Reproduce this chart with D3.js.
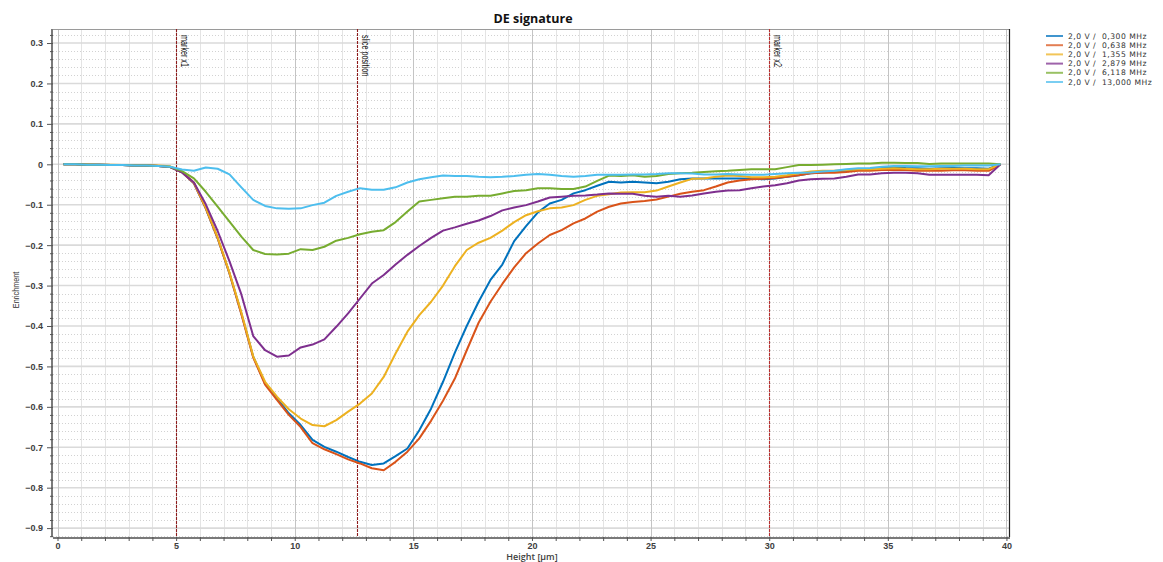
<!DOCTYPE html>
<html>
<head>
<meta charset="utf-8">
<script src="https://cdn.jsdelivr.net/npm/d3@7"></script>
<style>
  html, body { margin: 0; padding: 0; background: #fff; }
  svg { display: block; font-family: "Open Sans", "DejaVu Sans", sans-serif; }
</style>
</head>
<body>
<svg id="chart" width="1163" height="562"></svg>
<script>
// Sample heights (µm) of the depth profile
const heights = [0.25, 0.75, 1.25, 1.75, 2.25, 2.75, 3.25, 3.75, 4.25, 4.75,
  5.25, 5.75, 6.25, 6.75, 7.25, 7.75, 8.25, 8.75, 9.25, 9.75,
  10.25, 10.75, 11.25, 11.75, 12.25, 12.75, 13.25, 13.75, 14.25, 14.75,
  15.25, 15.75, 16.25, 16.75, 17.25, 17.75, 18.25, 18.75, 19.25, 19.75,
  20.25, 20.75, 21.25, 21.75, 22.25, 22.75, 23.25, 23.75, 24.25, 24.75,
  25.25, 25.75, 26.25, 26.75, 27.25, 27.75, 28.25, 28.75, 29.25, 29.75,
  30.25, 30.75, 31.25, 31.75, 32.25, 32.75, 33.25, 33.75, 34.25, 34.75,
  35.25, 35.75, 36.25, 36.75, 37.25, 37.75, 38.25, 38.75, 39.25, 39.75];

// Enrichment per drive frequency
const f0300 = [0, 0, -0.001, -0.001, -0.002, -0.002, -0.003, -0.003, -0.004, -0.007,
  -0.020, -0.047, -0.109, -0.183, -0.270, -0.369, -0.476, -0.542, -0.579, -0.616,
  -0.645, -0.682, -0.699, -0.711, -0.724, -0.736, -0.744, -0.740, -0.722, -0.703,
  -0.658, -0.604, -0.538, -0.466, -0.400, -0.340, -0.286, -0.248, -0.190, -0.153,
  -0.119, -0.097, -0.088, -0.072, -0.064, -0.053, -0.043, -0.045, -0.043, -0.045,
  -0.047, -0.043, -0.037, -0.035, -0.035, -0.035, -0.035, -0.035, -0.036, -0.037,
  -0.035, -0.031, -0.027, -0.022, -0.020, -0.018, -0.016, -0.012, -0.012, -0.009,
  -0.007, -0.009, -0.010, -0.011, -0.010, -0.009, -0.010, -0.010, -0.011, 0];
const f0638 = [0, 0, -0.001, -0.001, -0.002, -0.002, -0.003, -0.003, -0.004, -0.007,
  -0.020, -0.047, -0.109, -0.183, -0.270, -0.371, -0.478, -0.545, -0.583, -0.620,
  -0.650, -0.690, -0.705, -0.717, -0.730, -0.740, -0.752, -0.757, -0.736, -0.711,
  -0.678, -0.634, -0.585, -0.530, -0.460, -0.392, -0.340, -0.296, -0.255, -0.220,
  -0.196, -0.175, -0.163, -0.146, -0.134, -0.117, -0.105, -0.097, -0.093, -0.091,
  -0.087, -0.080, -0.073, -0.068, -0.064, -0.055, -0.045, -0.040, -0.037, -0.036,
  -0.034, -0.031, -0.027, -0.022, -0.021, -0.021, -0.019, -0.016, -0.016, -0.014,
  -0.014, -0.014, -0.016, -0.016, -0.016, -0.015, -0.015, -0.016, -0.016, 0];
const f1355 = [0, 0, 0, -0.001, -0.001, -0.002, -0.002, -0.002, -0.003, -0.005,
  -0.018, -0.045, -0.107, -0.181, -0.268, -0.366, -0.475, -0.538, -0.575, -0.606,
  -0.629, -0.645, -0.648, -0.633, -0.612, -0.592, -0.567, -0.526, -0.468, -0.414,
  -0.373, -0.340, -0.300, -0.252, -0.212, -0.194, -0.182, -0.164, -0.143, -0.126,
  -0.116, -0.109, -0.107, -0.101, -0.088, -0.078, -0.074, -0.070, -0.069, -0.069,
  -0.065, -0.055, -0.045, -0.036, -0.035, -0.031, -0.028, -0.029, -0.032, -0.032,
  -0.031, -0.027, -0.022, -0.018, -0.016, -0.016, -0.014, -0.012, -0.012, -0.011,
  -0.010, -0.011, -0.012, -0.012, -0.011, -0.011, -0.011, -0.012, -0.012, 0];
const f2879 = [0, 0, -0.001, -0.001, -0.002, -0.002, -0.003, -0.003, -0.004, -0.007,
  -0.020, -0.045, -0.099, -0.165, -0.240, -0.322, -0.425, -0.460, -0.476, -0.473,
  -0.453, -0.446, -0.433, -0.402, -0.369, -0.332, -0.295, -0.274, -0.248, -0.224,
  -0.202, -0.182, -0.164, -0.156, -0.147, -0.139, -0.128, -0.114, -0.107, -0.101,
  -0.092, -0.082, -0.080, -0.078, -0.077, -0.075, -0.072, -0.073, -0.073, -0.078,
  -0.080, -0.078, -0.080, -0.077, -0.072, -0.068, -0.065, -0.064, -0.059, -0.055,
  -0.052, -0.047, -0.040, -0.037, -0.036, -0.035, -0.031, -0.025, -0.025, -0.022,
  -0.021, -0.021, -0.022, -0.026, -0.026, -0.026, -0.026, -0.026, -0.027, 0];
const f6118 = [0, 0, -0.001, -0.001, -0.002, -0.002, -0.003, -0.003, -0.004, -0.006,
  -0.017, -0.035, -0.068, -0.105, -0.142, -0.179, -0.212, -0.222, -0.223, -0.221,
  -0.210, -0.212, -0.204, -0.189, -0.182, -0.173, -0.167, -0.163, -0.143, -0.117,
  -0.092, -0.088, -0.084, -0.080, -0.080, -0.078, -0.078, -0.072, -0.066, -0.064,
  -0.059, -0.059, -0.061, -0.061, -0.055, -0.041, -0.028, -0.029, -0.027, -0.031,
  -0.029, -0.024, -0.022, -0.021, -0.019, -0.017, -0.016, -0.014, -0.012, -0.012,
  -0.012, -0.007, -0.002, -0.002, -0.001, 0, 0.001, 0.002, 0.002, 0.004,
  0.004, 0.003, 0.003, 0.001, 0.002, 0.002, 0.002, 0.002, 0.002, 0];
const f13000 = [0, 0, -0.001, -0.001, -0.002, -0.002, -0.003, -0.003, -0.004, -0.006,
  -0.013, -0.016, -0.008, -0.011, -0.025, -0.057, -0.088, -0.103, -0.109, -0.110,
  -0.109, -0.101, -0.095, -0.078, -0.068, -0.059, -0.063, -0.063, -0.057, -0.045,
  -0.037, -0.032, -0.028, -0.029, -0.029, -0.031, -0.032, -0.031, -0.029, -0.026,
  -0.024, -0.026, -0.029, -0.031, -0.029, -0.026, -0.026, -0.026, -0.025, -0.025,
  -0.024, -0.022, -0.022, -0.023, -0.025, -0.025, -0.024, -0.025, -0.026, -0.026,
  -0.024, -0.022, -0.021, -0.020, -0.018, -0.016, -0.012, -0.010, -0.009, -0.006,
  -0.004, -0.004, -0.005, -0.005, -0.004, -0.004, -0.003, -0.003, -0.003, 0];

const seriesNames = ["2,0 V /  0,300 MHz", "2,0 V /  0,638 MHz", "2,0 V /  1,355 MHz",
  "2,0 V /  2,879 MHz", "2,0 V /  6,118 MHz", "2,0 V /  13,000 MHz"];
const seriesValues = [f0300, f0638, f1355, f2879, f6118, f13000];
const seriesColors = ["#0072BD", "#D95319", "#EDB120", "#7E2F8E", "#77AC30", "#4DBEEE"];

// Vertical markers
const markerNames = ["marker x1", "slice position", "marker x2"];
const markerPositions = [5, 12.64, 30];
const markerColors = ["#8e1c1c", "#8e1c1c", "#b82e2e"];

const xTicks = [0, 5, 10, 15, 20, 25, 30, 35, 40];
const yTicks = [0.3, 0.2, 0.1, 0, -0.1, -0.2, -0.3, -0.4, -0.5, -0.6, -0.7, -0.8, -0.9];

const svg = d3.select("#chart");
const L = 53, R = 1010, T = 29, B = 537;

const x = d3.scaleLinear().domain([-0.19, 40.15]).range([L, R]);
const y = d3.scaleLinear().domain([0.3347, -0.922]).range([T, B]);

const grid = svg.append("g");

// minor horizontal grid, dotted, every 0.02
const yMinor = d3.range(-46, 17).map(i => i * 0.02).filter(v => Math.abs(Math.round(v * 10) - v * 10) > 1e-6);
grid.selectAll("line.ymin").data(yMinor).join("line")
  .attr("x1", L).attr("x2", R)
  .attr("y1", d => Math.round(y(d)) + 0.5).attr("y2", d => Math.round(y(d)) + 0.5)
  .attr("stroke", "#d2d2d2").attr("stroke-width", 1).attr("stroke-dasharray", "1,2");

// minor vertical grid every 1 µm
const xMinor = d3.range(0, 41).filter(v => v % 5 !== 0);
grid.selectAll("line.xmin").data(xMinor).join("line")
  .attr("x1", d => Math.round(x(d)) + 0.5).attr("x2", d => Math.round(x(d)) + 0.5)
  .attr("y1", T).attr("y2", B)
  .attr("stroke", "#e4e4e4").attr("stroke-width", 1);

// major horizontal grid
grid.selectAll("line.ymaj").data(yTicks).join("line")
  .attr("x1", L).attr("x2", R)
  .attr("y1", d => y(d)).attr("y2", d => y(d))
  .attr("stroke", "#dadada").attr("stroke-width", 1.6);

// major vertical grid
grid.selectAll("line.xmaj").data(xTicks).join("line")
  .attr("x1", d => Math.round(x(d)) + 0.5).attr("x2", d => Math.round(x(d)) + 0.5)
  .attr("y1", T).attr("y2", B)
  .attr("stroke", "#c4c4c4").attr("stroke-width", 1);

// frame
svg.append("line").attr("x1", L).attr("x2", R).attr("y1", T + 0.5).attr("y2", T + 0.5)
  .attr("stroke", "#9a9a9a").attr("stroke-width", 1);
svg.append("line").attr("x1", R - 0.5).attr("x2", R - 0.5).attr("y1", T).attr("y2", B)
  .attr("stroke", "#222").attr("stroke-width", 1.2);

// markers
const mk = svg.append("g");
mk.selectAll("line").data(markerPositions).join("line")
  .attr("x1", d => Math.round(x(d)) + 0.5).attr("x2", d => Math.round(x(d)) + 0.5)
  .attr("y1", T).attr("y2", B)
  .attr("stroke", (d, i) => markerColors[i]).attr("stroke-width", 1.1).attr("stroke-dasharray", "3,1");
mk.selectAll("text").data(markerNames).join("text")
  .attr("transform", (d, i) => `translate(${x(markerPositions[i]) + 5},${T + 6}) rotate(90) scale(0.72,1)`)
  .attr("font-family", "Liberation Sans, Arial, sans-serif")
  .attr("font-size", 10).attr("fill", "#111")
  .text(d => d);

// series lines
const line = d3.line().x((d, i) => x(heights[i])).y(d => y(d));
svg.append("g").selectAll("path").data(seriesValues).join("path")
  .attr("d", d => line(d))
  .attr("fill", "none")
  .attr("stroke", (d, i) => seriesColors[i])
  .attr("stroke-width", 2)
  .attr("stroke-linejoin", "round");

// axes
const xAxis = d3.axisBottom(x).tickValues(d3.range(0, 41)).tickSize(4)
  .tickFormat(d => (d % 5 === 0 ? d : ""));
const gx = svg.append("g").attr("transform", `translate(0,${B})`).call(xAxis);
gx.select(".domain").attr("stroke", "#7a7a7a").attr("stroke-width", 2).attr("d", `M${L},1V1H${R}`);
gx.selectAll(".tick line").attr("stroke", "#555");
gx.selectAll(".tick text").attr("font-size", 9).attr("font-weight", 600).attr("fill", "#404040").attr("dy", "0.55em");

const yAxis = d3.axisLeft(y).tickValues(yMinor.concat(yTicks)).tickSize(3)
  .tickFormat(d => (yTicks.some(t => Math.abs(t - d) < 1e-9) ? (Math.abs(d) < 1e-9 ? "0" : d3.format(".1f")(d)) : ""));
const gy = svg.append("g").attr("transform", `translate(${L},0)`).call(yAxis);
gy.select(".domain").attr("stroke", "#7a7a7a").attr("stroke-width", 2).attr("d", `M-1,${T}H-1V${B}H-1`);
gy.selectAll(".tick line").attr("stroke", "#555")
  .attr("x2", d => (yTicks.some(t => Math.abs(t - d) < 1e-9) ? -6 : -3));
gy.selectAll(".tick text").attr("font-size", 9).attr("font-weight", 600).attr("fill", "#404040").attr("x", -10);

// titles
svg.append("text").attr("x", 533).attr("y", 23).attr("text-anchor", "middle")
  .attr("font-size", 12.5).attr("font-weight", 700).attr("fill", "#111").text("DE signature");
svg.append("text").attr("x", 532).attr("y", 560).attr("text-anchor", "middle")
  .attr("font-size", 9).attr("font-weight", 600).attr("fill", "#404040").text("Height [µm]");
svg.append("text").attr("transform", "translate(19,290) rotate(-90) scale(0.8,1)")
  .attr("text-anchor", "middle").attr("font-family", "Liberation Sans, Arial, sans-serif")
  .attr("font-size", 9).attr("fill", "#333").text("Enrichment");

// legend
const lg = svg.append("g").attr("transform", "translate(1046,36)");
const rows = lg.selectAll("g").data(seriesNames).join("g")
  .attr("transform", (d, i) => `translate(0,${i * 9.2})`);
rows.append("line").attr("x1", 0).attr("x2", 17).attr("y1", 0).attr("y2", 0)
  .attr("stroke", (d, i) => seriesColors[i]).attr("stroke-width", 2).attr("stroke-opacity", 0.75);
rows.append("text").attr("x", 22).attr("y", 0).attr("dy", "0.35em")
  .attr("font-family", "DejaVu Sans, sans-serif")
  .attr("font-size", 7.6).attr("letter-spacing", 0.5).attr("fill", "#333").attr("xml:space", "preserve")
  .style("white-space", "pre").text(d => d);
</script>
</body>
</html>
